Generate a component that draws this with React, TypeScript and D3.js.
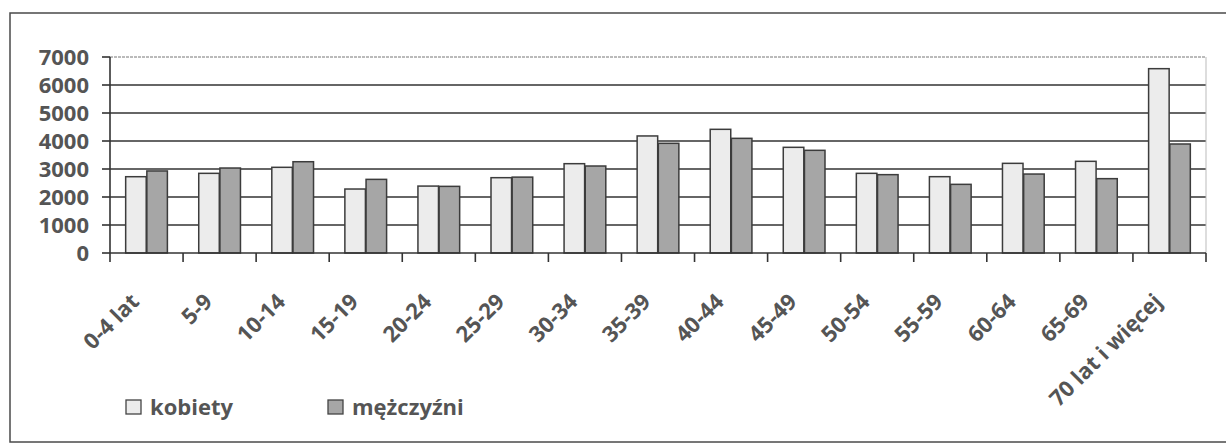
import React from "react";
import * as d3 from "d3";

const categories = ["0-4 lat", "5-9", "10-14", "15-19", "20-24", "25-29", "30-34", "35-39", "40-44", "45-49", "50-54", "55-59", "60-64", "65-69", "70 lat i więcej"];
const kobiety = [2725, 2845, 3060, 2285, 2390, 2690, 3190, 4180, 4417, 3774, 2845, 2726, 3202, 3274, 6583];
const mezczyzni = [2930, 3035, 3260, 2630, 2380, 2710, 3107, 3917, 4095, 3667, 2798, 2452, 2820, 2655, 3893];
const seriesNames = ["kobiety", "mężczyźni"];
const yTicks = [0, 1000, 2000, 3000, 4000, 5000, 6000, 7000];

const W = 1226;
const H = 443;
const left = 110;
const right = 1206;
const top = 57;
const bottom = 253;
const colors = ["#ececec", "#a6a6a6"];
const textColor = "#555555";
const font = "'Open Sans', Lato, sans-serif";

export default function App() {
  const x = d3.scaleBand<string>().domain(categories).range([left, right]).padding(0);
  const inner = d3.scaleBand<string>().domain(seriesNames).range([0, x.bandwidth()]).paddingInner(0.03).paddingOuter(0.74);
  const y = d3.scaleLinear().domain([0, 7000]).range([bottom, top]);
  const series = [kobiety, mezczyzni];

  return (
    <div style={{ position: "absolute", left: 0, top: 0 }}>
      <svg width={W} height={H} style={{ display: "block", background: "#fff" }}>
        <rect x={10} y={13} width={1240} height={429} fill="none" stroke="#4a4a4a" strokeWidth={1.5} />
        {/* gridlines */}
        {yTicks.filter((t) => t > 0).map((t) => (
          <line key={t} x1={left} x2={right} y1={y(t)} y2={y(t)}
            stroke={t === 7000 ? "#777" : "#333"} strokeWidth={t === 7000 ? 1 : 1.6}
            strokeDasharray={t === 7000 ? "3,1" : undefined} />
        ))}
        <line x1={right} x2={right} y1={top} y2={bottom} stroke="#bbb" strokeWidth={1} />
        {/* bars */}
        {categories.map((c, i) => (
          <g key={c} transform={`translate(${x(c)},0)`}>
            {series.map((s, j) => (
              <rect key={j} x={inner(seriesNames[j])} y={y(s[i])} width={inner.bandwidth()}
                height={bottom - y(s[i])} fill={colors[j]} stroke="#3c3c3c" strokeWidth={1.5} />
            ))}
          </g>
        ))}
        {/* y axis */}
        <line x1={left} x2={left} y1={top} y2={bottom} stroke="#333" strokeWidth={1.6} />
        {yTicks.map((t) => (
          <g key={t}>
            <line x1={left - 8} x2={left} y1={y(t)} y2={y(t)} stroke="#333" strokeWidth={1.6} />
            <text x={left - 21} y={y(t)} dy="0.36em" textAnchor="end" fontFamily={font}
              fontWeight="bold" fontSize={22} fill={textColor}>{t}</text>
          </g>
        ))}
        {/* x axis */}
        <line x1={left} x2={right} y1={bottom} y2={bottom} stroke="#333" strokeWidth={1.6} />
        {categories.map((c) => (
          <line key={c} x1={x(c)} x2={x(c)} y1={bottom} y2={bottom + 9} stroke="#333" strokeWidth={1.6} />
        ))}
        <line x1={right} x2={right} y1={bottom} y2={bottom + 9} stroke="#333" strokeWidth={1.6} />
        {categories.map((c) => {
          const ax = (x(c) as number) + x.bandwidth() / 2 - 6;
          const ay = 303;
          return (
            <text key={c} x={ax} y={ay} textAnchor="end" transform={`rotate(-45 ${ax} ${ay})`}
              fontFamily={font} fontWeight="bold" fontSize={22} fill={textColor}>{c}</text>
          );
        })}
        {/* legend */}
        {seriesNames.map((n, j) => {
          const lx = j === 0 ? 126 : 328;
          return (
            <g key={n}>
              <rect x={lx} y={400} width={15} height={14} fill={colors[j]} stroke="#444" strokeWidth={1.3} />
              <text x={lx + 24} y={415} fontFamily={font} fontWeight="bold" fontSize={22} fill={textColor}>{n}</text>
            </g>
          );
        })}
      </svg>
    </div>
  );
}
